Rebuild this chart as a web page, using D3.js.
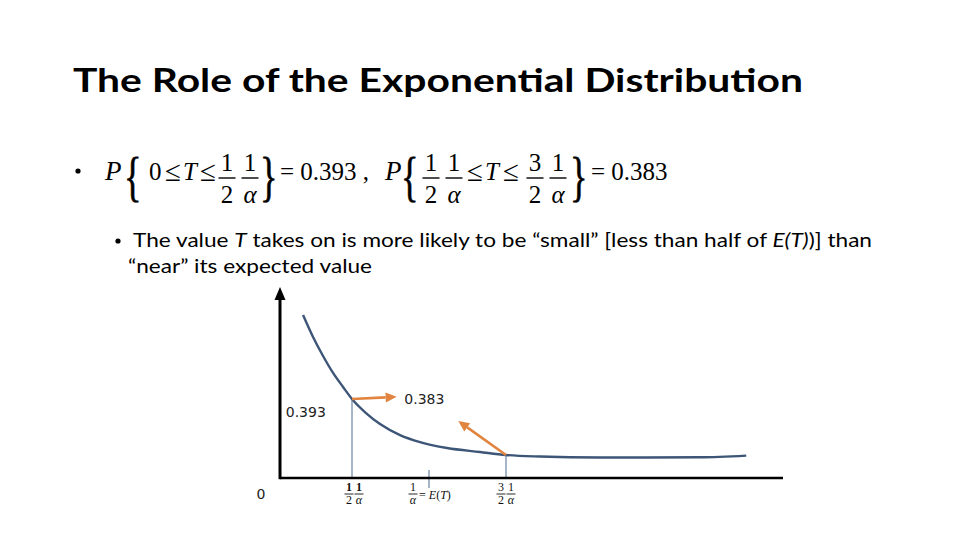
<!DOCTYPE html>
<html><head><meta charset="utf-8">
<script src="https://cdn.jsdelivr.net/npm/d3@7/dist/d3.min.js"></script>
<style>
html,body{margin:0;padding:0;background:#fff;}
svg{display:block;}
</style></head>
<body>
<svg id="c" width="960" height="540"></svg>
<script>
// ---- data ----
const title = "The Role of the Exponential Distribution";
const curveT = [0.182, 0.247, 0.312, 0.377, 0.442, 0.5, 0.591, 0.682, 0.812, 0.942, 1.117, 1.331, 1.5, 1.721, 2.11, 2.76, 3.06];
const curveF = [0.858, 0.742, 0.642, 0.553, 0.479, 0.416, 0.342, 0.284, 0.226, 0.189, 0.158, 0.137, 0.121, 0.113, 0.108, 0.109, 0.118];
const tickT = [0.5, 1, 1.5];
const probLabels = ["0.393", "0.383"];
const probT = [0.07, 0.84];
const probF = [0.321, 0.389];
const arrowStartT = [0.5, 1.5];
const arrowEndT = [0.79, 1.19];
const arrowEndF = [0.427, 0.3];

const svg = d3.select("#c");
svg.append("rect").attr("width", 960).attr("height", 540).attr("fill", "#fff");

// ---- title ----
svg.append("text").attr("x", 73).attr("y", 92)
  .attr("font-family", "Lato, 'Open Sans', sans-serif").attr("font-weight", 700)
  .attr("font-size", 32).attr("fill", "#000")
  .attr("textLength", 730).attr("lengthAdjust", "spacingAndGlyphs")
  .text(title);

// ---- formula line ----
const serif = "'Liberation Serif', 'Times New Roman', serif";
const fsz = 25;
svg.append("circle").attr("cx", 78).attr("cy", 171).attr("r", 2.6).attr("fill", "#000");
function t(x, y, s, opts = {}) {
  return svg.append("text").attr("x", x).attr("y", y)
    .attr("font-family", opts.family || serif).attr("font-size", opts.size || fsz)
    .attr("font-style", opts.italic ? "italic" : "normal")
    .attr("font-weight", opts.bold ? 700 : 400)
    .attr("text-anchor", opts.anchor || "start").attr("fill", "#000").text(s);
}
function brace(x, ch) {
  svg.append("text").attr("transform", `translate(${x},195) scale(1.35,2.05)`)
    .attr("font-family", serif).attr("font-size", 27).attr("fill", "#000")
    .attr("stroke", "#000").attr("stroke-width", 0.35).text(ch);
}
function frac(cx, num, den, denItalic) {
  t(cx, 171, num, { anchor: "middle" });
  svg.append("line").attr("x1", cx - 8.5).attr("x2", cx + 8.5).attr("y1", 178).attr("y2", 178)
    .attr("stroke", "#000").attr("stroke-width", 1.4);
  t(cx, 203, den, { anchor: "middle", italic: denItalic });
}
const base = 180;
t(105, base, "P", { italic: true, size: 27 });
brace(124, "{");
t(149, base, "0");
t(165, base + 1, "≤", { size: 29 });
t(183, base, "T", { italic: true });
t(200, base + 1, "≤", { size: 29 });
frac(227, "1", "2", false);
frac(250, "1", "α", true);
brace(260, "}");
t(280, base, "= 0.393 ,");
t(385, base, "P", { italic: true, size: 27 });
brace(401, "{");
frac(431, "1", "2", false);
frac(454, "1", "α", true);
t(467, base + 1, "≤", { size: 29 });
t(485, base, "T", { italic: true });
t(503, base + 1, "≤", { size: 29 });
frac(535, "3", "2", false);
frac(558, "1", "α", true);
brace(570, "}");
t(591, base, "= 0.383");

// ---- bullet text ----
const sans = "Lato, 'Open Sans', sans-serif";
svg.append("circle").attr("cx", 118).attr("cy", 241).attr("r", 2.6).attr("fill", "#000");
const l1 = svg.append("text").attr("x", 133).attr("y", 247)
  .attr("font-family", sans).attr("font-size", 19).attr("fill", "#000")
  .attr("textLength", 739).attr("lengthAdjust", "spacingAndGlyphs");
l1.append("tspan").text("The value ");
l1.append("tspan").attr("font-style", "italic").text("T");
l1.append("tspan").text(" takes on is more likely to be “small” [less than half of ");
l1.append("tspan").attr("font-style", "italic").text("E(T)");
l1.append("tspan").text(")] than");
svg.append("text").attr("x", 128).attr("y", 273)
  .attr("font-family", sans).attr("font-size", 19).attr("fill", "#000")
  .attr("textLength", 244).attr("lengthAdjust", "spacingAndGlyphs")
  .text("“near” its expected value");

// ---- chart ----
const x = d3.scaleLinear().domain([0, 1]).range([275, 429]);
const y = d3.scaleLinear().domain([0, 1]).range([478, 288]);
const axisLeftX = 280, axisRightX = 783;
const curveColor = "#3d5577";
const orange = "#e0843f";
const guide = "#6a85a3";

const pts = curveT.map((d, i) => [d, curveF[i]]);
const fAt = tv => curveF[curveT.indexOf(tv)];

// guide lines at 1/2α and 3/2α (curve down to axis), tick at 1/α
tickT.forEach(tv => {
  const onCurve = curveT.indexOf(tv) >= 0 && tv !== 1;
  svg.append("line").attr("x1", x(tv)).attr("x2", x(tv))
    .attr("y1", onCurve ? y(fAt(tv)) : y(0) - 8).attr("y2", onCurve ? y(0) : y(0) + 10)
    .attr("stroke", guide).attr("stroke-width", 1.2);
});

// axes
svg.append("line").attr("x1", axisLeftX).attr("x2", axisRightX).attr("y1", y(0)).attr("y2", y(0))
  .attr("stroke", "#000").attr("stroke-width", 2.5);
svg.append("line").attr("x1", axisLeftX).attr("x2", axisLeftX).attr("y1", y(0) + 1.2).attr("y2", 298)
  .attr("stroke", "#000").attr("stroke-width", 3);
svg.append("path").attr("d", `M${axisLeftX},287 L${axisLeftX - 5.5},300 L${axisLeftX + 5.5},300 Z`).attr("fill", "#000");

// curve
svg.append("path").datum(pts)
  .attr("d", d3.line().x(d => x(d[0])).y(d => y(d[1])).curve(d3.curveMonotoneX))
  .attr("fill", "none").attr("stroke", curveColor).attr("stroke-width", 2.4);

// arrows
arrowStartT.forEach((st, i) => {
  const x0 = x(st), y0 = y(fAt(st)), x1 = x(arrowEndT[i]), y1 = y(arrowEndF[i]);
  const ang = Math.atan2(y1 - y0, x1 - x0);
  const L = 11, W = 5;
  const bx = x1 - L * Math.cos(ang), by = y1 - L * Math.sin(ang);
  svg.append("line").attr("x1", x0).attr("y1", y0).attr("x2", bx).attr("y2", by)
    .attr("stroke", orange).attr("stroke-width", 2.6);
  const px = -Math.sin(ang) * W, py = Math.cos(ang) * W;
  svg.append("path").attr("d", `M${x1},${y1} L${bx + px},${by + py} L${bx - px},${by - py} Z`).attr("fill", orange);
});

// probability labels
probLabels.forEach((s, i) => {
  svg.append("text").attr("x", x(probT[i])).attr("y", y(probF[i]))
    .attr("font-family", "'DejaVu Sans', Verdana, sans-serif").attr("font-size", 14)
    .attr("fill", "#222").text(s);
});

// origin label
svg.append("text").attr("x", 261).attr("y", 499).attr("text-anchor", "middle")
  .attr("font-family", "'DejaVu Sans', Verdana, sans-serif").attr("font-size", 14)
  .attr("fill", "#222").text("0");

// x tick labels (small fractions)
function mini(cx, num, den, bold) {
  svg.append("text").attr("x", cx).attr("y", 491).attr("text-anchor", "middle")
    .attr("font-family", serif).attr("font-size", 12).attr("font-weight", bold ? 700 : 400)
    .attr("fill", "#111").text(num);
  svg.append("line").attr("x1", cx - 4.5).attr("x2", cx + 4.5).attr("y1", 494).attr("y2", 494)
    .attr("stroke", "#111").attr("stroke-width", 0.9);
  svg.append("text").attr("x", cx).attr("y", 504).attr("text-anchor", "middle")
    .attr("font-family", serif).attr("font-size", 12)
    .attr("font-style", den === "α" ? "italic" : "normal").attr("fill", "#111").text(den);
}
mini(x(tickT[0]) - 3, "1", "2", true);
mini(x(tickT[0]) + 7, "1", "α", true);
mini(x(tickT[1]) - 16, "1", "α", false);
svg.append("text").attr("x", x(tickT[1]) - 10).attr("y", 499)
  .attr("font-family", serif).attr("font-size", 12).attr("fill", "#111")
  .html("= <tspan font-style='italic'>E</tspan>(<tspan font-style='italic'>T</tspan>)");
mini(x(tickT[2]) - 5, "3", "2", false);
mini(x(tickT[2]) + 5, "1", "α", false);
</script>
</body></html>
